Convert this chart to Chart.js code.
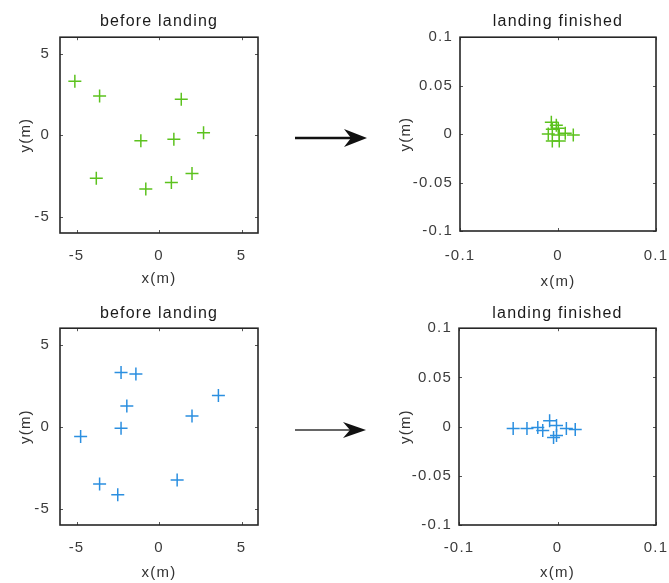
<!DOCTYPE html>
<html>
<head>
<meta charset="utf-8">
<script src="https://cdn.jsdelivr.net/npm/chart.js@4/dist/chart.umd.min.js"></script>
<style>
  body { margin: 0; background: #fff; }
  #wrap { position: relative; width: 669px; height: 583px; overflow: hidden; }
  #wrap canvas { position: absolute; }
  #arrows { position: absolute; left: 0; top: 0; }
</style>
</head>
<body>
<div id="wrap">
  <canvas id="c1" width="270" height="292" style="left:0;top:0"></canvas>
  <canvas id="c2" width="289" height="292" style="left:380px;top:0"></canvas>
  <canvas id="c3" width="270" height="291" style="left:0;top:292px"></canvas>
  <canvas id="c4" width="289" height="291" style="left:380px;top:292px"></canvas>
  <svg id="arrows" width="669" height="583">
    <line x1="295" y1="138" x2="353" y2="138" stroke="#111" stroke-width="2.6"/>
    <polygon points="367,138 344,129 351,138 344,147" fill="#111"/>
    <line x1="295" y1="430" x2="350" y2="430" stroke="#333" stroke-width="1.6"/>
    <polygon points="366,430 343,422 350,430 343,438" fill="#111"/>
  </svg>
</div>
<script>
// top row: green, bottom row: blue
const greenBeforeX = [-5.1, -3.6, 1.35, -1.1, 0.9, 2.7, -3.8, -0.8, 0.75, 2.0]
const greenBeforeY = [3.3, 2.4, 2.2, -0.35, -0.25, 0.15, -2.65, -3.3, -2.9, -2.35]
const greenAfterX = [-0.0068, -0.0058, -0.0058, 0.0003, 0.0013, 0.0013, 0.0074, 0.0156, -0.0099, -0.0017]
const greenAfterY = [0.0123, 0.0051, -0.0072, 0.0061, -0.001, -0.0072, 0.001, -0.001, 0.0, 0.0092]

const blueBeforeX = [-2.3, -1.4, -1.95, -2.3, -4.75, 2.0, 3.6, -3.6, -2.5, 1.1]
const blueBeforeY = [3.3, 3.2, 1.25, -0.1, -0.6, 0.65, 1.9, -3.5, -4.15, -3.25]
const blueAfterX = [-0.045, -0.031, -0.02, -0.015, -0.008, -0.001, -0.004, -0.001, 0.009, 0.018]
const blueAfterY = [-0.002, -0.002, -0.001, -0.004, 0.006, 0.001, -0.011, -0.009, -0.002, -0.003]

const bigTicks = [-5, 0, 5]
const smallTicksX = [-0.1, 0, 0.1]
const smallTicksY = [-0.1, -0.05, 0, 0.05, 0.1]

const green = '#5cc21e'
const blue = '#2b8fe0'
const family = '"Liberation Sans", Arial, sans-serif'

function fmt(v) {
  if (Math.abs(v) < 1e-9) return '0'
  return String(+v.toFixed(2))
}

// MATLAB-ish box with inward ticks, plus letter spacing for the blurry wide text
const boxPlugin = {
  id: 'box',
  beforeUpdate(chart) { chart.ctx.letterSpacing = '1.2px' },
  beforeDraw(chart) { chart.ctx.letterSpacing = '1.2px' },
  afterDraw(chart) {
    const { ctx, chartArea: a, scales } = chart
    ctx.save()
    ctx.strokeStyle = '#555'
    ctx.lineWidth = 1
    ctx.beginPath()
    for (const t of scales.x.ticks) {
      const px = Math.round(scales.x.getPixelForValue(t.value)) + 0.5
      ctx.moveTo(px, a.bottom); ctx.lineTo(px, a.bottom - 3)
      ctx.moveTo(px, a.top); ctx.lineTo(px, a.top + 3)
    }
    for (const t of scales.y.ticks) {
      const py = Math.round(scales.y.getPixelForValue(t.value)) + 0.5
      ctx.moveTo(a.left, py); ctx.lineTo(a.left + 3, py)
      ctx.moveTo(a.right, py); ctx.lineTo(a.right - 3, py)
    }
    ctx.stroke()
    ctx.strokeStyle = '#262626'
    ctx.lineWidth = 1.6
    ctx.strokeRect(a.left, a.top, a.width, a.height)
    ctx.restore()
  }
}

function makePanel(id, title, xs, ys, color, lim, xTicks, yTicks, dims) {
  const tickFont = { family, size: 15 }
  const labelFont = { family, size: 15 }
  return new Chart(document.getElementById(id), {
    type: 'scatter',
    data: {
      datasets: [{
        data: xs.map((x, i) => ({ x, y: ys[i] })),
        pointStyle: 'cross',
        pointRadius: 6.5,
        borderColor: color,
        backgroundColor: color,
        borderWidth: 1.5,
        showLine: false
      }]
    },
    options: {
      responsive: false,
      animation: false,
      layout: { padding: { left: 0, right: dims.padRight, top: 0, bottom: 0 } },
      plugins: {
        legend: { display: false },
        tooltip: { enabled: false },
        title: {
          display: true,
          text: title,
          fullSize: false,
          color: '#1a1a1a',
          font: { family, size: 16, weight: 'normal' },
          padding: { top: dims.titleTop, bottom: dims.titleBottom }
        }
      },
      scales: {
        x: {
          type: 'linear',
          min: -lim,
          max: lim,
          afterBuildTicks: s => { s.ticks = xTicks.map(v => ({ value: v })) },
          afterFit: s => { s.height = dims.xHeight; s.paddingLeft = 0; s.paddingRight = 0 },
          grid: { display: false, drawTicks: false },
          border: { display: false },
          ticks: { padding: dims.xTickPad, color: '#3c3c3c', font: tickFont, callback: fmt, maxRotation: 0, autoSkip: false },
          title: { display: true, text: 'x(m)', color: '#333', font: labelFont, padding: { top: 0, bottom: dims.xTitlePad } }
        },
        y: {
          type: 'linear',
          min: -lim,
          max: lim,
          afterBuildTicks: s => { s.ticks = yTicks.map(v => ({ value: v })) },
          afterFit: s => { s.width = dims.yWidth; s.paddingTop = 0; s.paddingBottom = 0 },
          grid: { display: false, drawTicks: false },
          border: { display: false },
          ticks: { padding: dims.yTickPad, color: '#3c3c3c', font: tickFont, callback: fmt, autoSkip: false },
          title: { display: true, text: 'y(m)', color: '#333', font: labelFont, padding: { top: dims.yTitlePad, bottom: 0 } }
        }
      }
    },
    plugins: [boxPlugin]
  })
}

makePanel('c1', 'before landing', greenBeforeX, greenBeforeY, green, 6, bigTicks, bigTicks,
  { padRight: 12, yWidth: 60, xHeight: 59, titleTop: 12, titleBottom: 6, xTickPad: 14, xTitlePad: 4, yTickPad: 10, yTitlePad: 17 })
makePanel('c2', 'landing finished', greenAfterX, greenAfterY, green, 0.1, smallTicksX, smallTicksY,
  { padRight: 13, yWidth: 80, xHeight: 61, titleTop: 12, titleBottom: 6, xTickPad: 16, xTitlePad: 1, yTickPad: 7, yTitlePad: 17 })
makePanel('c3', 'before landing', blueBeforeX, blueBeforeY, blue, 6, bigTicks, bigTicks,
  { padRight: 12, yWidth: 60, xHeight: 58, titleTop: 12, titleBottom: 5, xTickPad: 14, xTitlePad: 1, yTickPad: 10, yTitlePad: 17 })
makePanel('c4', 'landing finished', blueAfterX, blueAfterY, blue, 0.1, smallTicksX, smallTicksY,
  { padRight: 13, yWidth: 79, xHeight: 58, titleTop: 12, titleBottom: 5, xTickPad: 14, xTitlePad: 1, yTickPad: 7, yTitlePad: 17 })
</script>
</body>
</html>
